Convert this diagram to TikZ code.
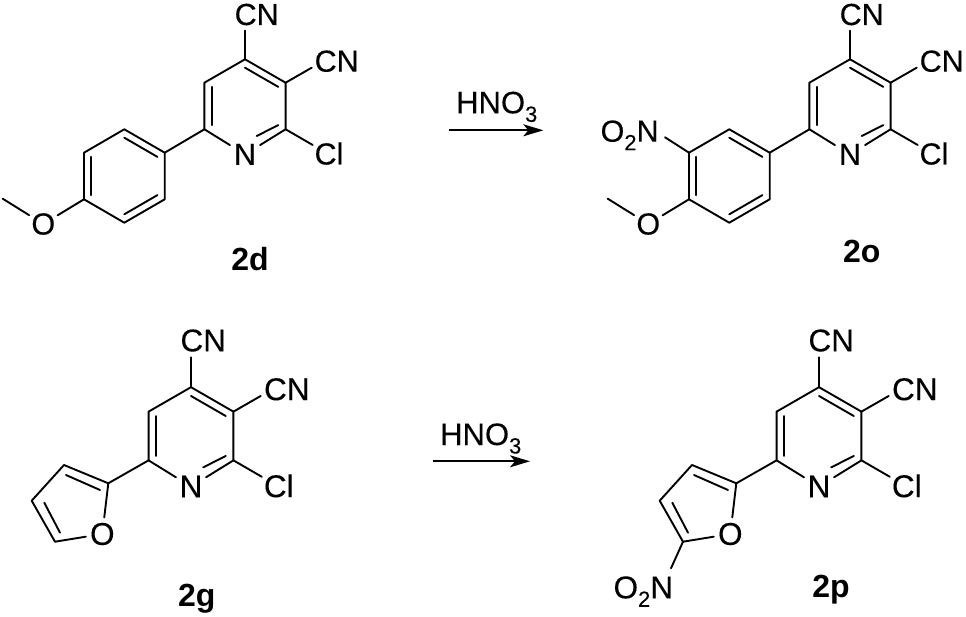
\documentclass[tikz,border=0pt]{standalone}
\usepackage{fontspec}
\setmainfont[FakeBold=0.2]{Liberation Sans}[BoldFont={Liberation Sans Bold},BoldFeatures={FakeBold=0}]
\usetikzlibrary{arrows.meta,calc}
\newcommand\labfont[1]{\fontsize{#1}{#1}\selectfont}
\newcommand\chemsub[1]{\raisebox{-8.5pt}{\labfont{22}#1}}
\tikzset{
  bond/.style={line width=1.9pt,line cap=round,line join=round,black},
  rxn/.style={line width=1.8pt,black,-{Stealth[length=20pt,width=12pt,inset=5pt]}},
  lab/.style={anchor=base,inner sep=0pt,text=black},
  ringatom/.style={circle,inner sep=0pt,minimum size=35pt,text=black},
  cmpd/.style={anchor=base,inner sep=0pt,text=black,font=\labfont{32}\bfseries},
  reagent/.style={anchor=base west,inner sep=0pt,text=black,font=\labfont{31}}
}
% #1 prefix, #2 centre x, #3 centre y, #4 scale, #5 font size
\newcommand\pyridine[5]{%
\begin{scope}[shift={(#2,#3)},scale=#4]
  \coordinate (#1ctr) at (0,0);
  \coordinate (#1c4) at (0,-46.7);
  \coordinate (#1c3) at (40.6,-23.3);
  \coordinate (#1c2) at (40.6,23.3);
  \coordinate (#1c6) at (-40.6,23.3);
  \coordinate (#1c5) at (-40.6,-23.3);
  \coordinate (#1inN) at (11.7,30);
  \coordinate (#1endA) at (0,-75.3);
  \coordinate (#1endB) at (66.7,-38.3);
  \coordinate (#1endC) at (67.7,39);
  \node[ringatom,font=\labfont{#5}] (#1N) at (0,48.4) {N};
  \node[lab,font=\labfont{#5}] (#1cnA) at (11.7,-81) {CN};
  \node[lab,font=\labfont{#5}] (#1cnB) at (91.7,-34.3) {CN};
  \node[lab,font=\labfont{#5}] (#1cl) at (84,58.5) {Cl};
  \draw[bond] (#1N) -- (#1c2) -- (#1c3) -- (#1c4) -- (#1c5) -- (#1c6) -- (#1N);
  \draw[bond] ($(#1c4)!.18!(#1ctr)$) -- ($(#1c3)!.18!(#1ctr)$);
  \draw[bond] ($(#1c5)!.18!(#1ctr)$) -- ($(#1c6)!.18!(#1ctr)$);
  \draw[bond] ($(#1c2)!.18!(#1ctr)$) -- (#1inN);
  \draw[bond] (#1c4) -- (#1endA);
  \draw[bond] (#1c3) -- (#1endB);
  \draw[bond] (#1c2) -- (#1endC);
\end{scope}}
% #1 prefix, #2 x offset
\newcommand\anisyl[2]{%
\begin{scope}[shift={(#2,0)}]
  \coordinate (#1ctr) at (124.3,176);
  \coordinate (#1a) at (164.7,152.7);
  \coordinate (#1b) at (124.3,129.3);
  \coordinate (#1c) at (84,152.7);
  \coordinate (#1d) at (84,199.3);
  \coordinate (#1e) at (124.3,222.7);
  \coordinate (#1f) at (164.7,199.3);
  \coordinate (#1me) at (2.7,198.7);
  \node[ringatom,font=\labfont{30.5},minimum size=33pt] (#1O) at (43.3,224) {O};
  \draw[bond] (#1a) -- (#1b) -- (#1c) -- (#1d) -- (#1e) -- (#1f) -- cycle;
  \draw[bond] ($(#1a)!.18!(#1ctr)$) -- ($(#1b)!.18!(#1ctr)$);
  \draw[bond] ($(#1c)!.18!(#1ctr)$) -- ($(#1d)!.18!(#1ctr)$);
  \draw[bond] ($(#1e)!.18!(#1ctr)$) -- ($(#1f)!.18!(#1ctr)$);
  \draw[bond] (#1d) -- (#1O) -- (#1me);
\end{scope}}
% #1 prefix, #2 x offset
\newcommand\furanring[2]{%
\begin{scope}[shift={(#2,0)}]
  \coordinate (#1a) at (108.3,483.3);
  \coordinate (#1b) at (64,465);
  \coordinate (#1c) at (31.7,500.7);
  \coordinate (#1d) at (55,541.7);
  \coordinate (#1ab) at (100,490);
  \coordinate (#1ba) at (66,475);
  \coordinate (#1cd) at (44.3,502.7);
  \coordinate (#1dc) at (60,532.7);
  \node[ringatom,font=\labfont{31.5},minimum size=33pt] (#1O) at (102.3,534) {O};
  \draw[bond] (#1O) -- (#1a) -- (#1b) -- (#1c) -- (#1d) -- (#1O);
  \draw[bond] (#1ab) -- (#1ba);
  \draw[bond] (#1cd) -- (#1dc);
\end{scope}}
\begin{document}
\begin{tikzpicture}[x=1pt,y=-1pt]
\useasboundingbox (0,0) rectangle (966,617);
\fill[white] (0,0) rectangle (966,617);
% 2d
\pyridine{A}{245}{106}{1}{30.5}
\anisyl{P}{0}
\draw[bond] (Ac6) -- (Pa);
\node[cmpd] (l2d) at (250,270.7) {2d};
% 2o
\pyridine{B}{850}{106}{1}{30.5}
\anisyl{Q}{605}
\draw[bond] (Bc6) -- (Qa);
\coordinate (Qno) at (665,137.3);
\node[lab,font=\labfont{30.5}] (no2o) at (629.6,141.7) {O\chemsub{2}N};
\draw[bond] (Qc) -- (Qno);
\node[cmpd] (l2o) at (861.7,262.7) {2o};
% arrow 1
\coordinate (ar1s) at (449.3,130.3);
\coordinate (ar1e) at (543.3,130.3);
\draw[rxn] (ar1s) -- (ar1e);
\node[reagent] (hno1) at (456,113.3) {HNO\chemsub{3}};
% 2g
\pyridine{C}{191}{436}{1.045}{31.5}
\furanring{R}{0}
\draw[bond] (Cc6) -- (Ra);
\node[cmpd] (l2g) at (196.7,606) {2g};
% 2p
\pyridine{D}{819}{436}{1.045}{31.5}
\furanring{S}{628}
\draw[bond] (Dc6) -- (Sa);
\coordinate (Sno) at (671,568.3);
\node[lab,font=\labfont{31.5}] (no2p) at (643.3,598.3) {O\chemsub{2}N};
\draw[bond] (Sd) -- (Sno);
\node[cmpd] (l2p) at (831,597.3) {2p};
% arrow 2
\coordinate (ar2s) at (433.3,461.3);
\coordinate (ar2e) at (530,461.3);
\draw[rxn] (ar2s) -- (ar2e);
\node[reagent] (hno2) at (440,445) {HNO\chemsub{3}};
\end{tikzpicture}
\end{document}
